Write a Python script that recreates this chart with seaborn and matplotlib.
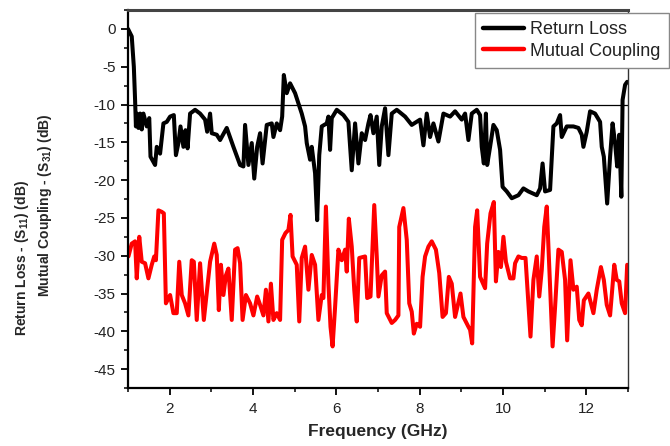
import numpy as np
import pandas as pd
import seaborn as sns
import matplotlib
matplotlib.use("Agg")
import matplotlib.pyplot as plt
from matplotlib.ticker import MultipleLocator

# Return loss (S11)
rl_freq = [1.00, 1.09, 1.14, 1.17, 1.19, 1.21, 1.25, 1.29, 1.33, 1.37, 1.45, 1.51, 1.54, 1.65, 1.69,
           1.77, 1.81, 1.85, 1.93, 2.01, 2.10, 2.15, 2.21, 2.26, 2.33, 2.38, 2.43, 2.49, 2.61, 2.73,
           2.85, 2.90, 2.97, 3.01, 3.13, 3.21, 3.37, 3.53, 3.69, 3.77, 3.81, 3.89, 3.97, 4.03, 4.10,
           4.17, 4.23, 4.33, 4.45, 4.49, 4.57, 4.65, 4.70, 4.74, 4.81, 4.89, 5.01, 5.17, 5.25, 5.29,
           5.37, 5.41, 5.49, 5.54, 5.59, 5.65, 5.77, 5.81, 5.85, 5.89, 6.01, 6.17, 6.29, 6.37, 6.45,
           6.53, 6.61, 6.69, 6.77, 6.82, 6.89, 6.97, 7.03, 7.09, 7.17, 7.25, 7.33, 7.45, 7.65, 7.81,
           8.01, 8.09, 8.17, 8.25, 8.33, 8.45, 8.57, 8.73, 8.85, 9.01, 9.09, 9.17, 9.25, 9.37, 9.45,
           9.49, 9.54, 9.59, 9.62, 9.69, 9.77, 9.85, 9.93, 9.99, 10.09, 10.21, 10.37, 10.49, 10.61, 10.81,
           10.89, 10.95, 11.01, 11.13, 11.21, 11.29, 11.37, 11.41, 11.53, 11.69, 11.81, 11.89, 11.93, 12.01, 12.09,
           12.21, 12.33, 12.37, 12.42, 12.50, 12.57, 12.63, 12.69, 12.74, 12.79, 12.84, 12.87, 12.93, 12.98]
rl_db = [0.0, -1.0, -5.0, -9.4, -12.9, -11.2, -13.1, -11.2, -13.3, -11.2, -12.9, -11.8, -16.9, -18.0, -15.6,
         -16.5, -14.5, -12.5, -12.3, -11.6, -11.4, -16.7, -15.1, -12.9, -15.6, -13.4, -15.8, -11.2, -10.7, -11.2,
         -12.0, -13.6, -11.2, -13.8, -14.0, -14.7, -13.1, -15.6, -18.0, -18.2, -12.7, -18.0, -15.1, -19.8, -15.6,
         -13.8, -17.8, -12.7, -12.5, -14.3, -12.5, -13.4, -11.6, -6.1, -8.5, -7.2, -8.5, -11.2, -12.9, -15.1,
         -17.3, -15.6, -19.1, -25.3, -16.7, -12.9, -12.5, -11.6, -16.0, -11.8, -10.7, -11.4, -12.3, -18.7, -12.5,
         -17.8, -13.8, -14.7, -12.5, -11.4, -13.8, -11.6, -18.0, -12.9, -10.5, -16.7, -11.2, -10.7, -11.6, -12.7,
         -12.0, -15.4, -11.2, -14.3, -12.5, -14.9, -11.2, -11.6, -10.9, -12.0, -11.2, -14.7, -11.2, -10.7, -11.4,
         -15.6, -17.8, -11.2, -18.0, -15.6, -12.7, -13.4, -16.0, -20.9, -21.5, -22.4, -22.0, -21.1, -21.5, -22.0,
         -21.1, -17.8, -21.5, -21.3, -12.9, -12.5, -11.4, -14.3, -12.9, -12.9, -13.1, -14.0, -15.6, -13.6, -10.9,
         -11.2, -12.3, -15.6, -16.9, -23.1, -16.9, -12.5, -15.1, -18.2, -14.0, -22.2, -9.4, -7.4, -7.0]

# Mutual coupling (S31)
mc_freq = [1.01, 1.09, 1.17, 1.21, 1.27, 1.33, 1.41, 1.49, 1.57, 1.63, 1.67, 1.73, 1.81, 1.86, 1.91,
           2.01, 2.09, 2.17, 2.23, 2.29, 2.37, 2.45, 2.53, 2.58, 2.65, 2.73, 2.82, 2.93, 2.97, 3.07,
           3.13, 3.18, 3.23, 3.29, 3.35, 3.41, 3.49, 3.57, 3.63, 3.69, 3.75, 3.83, 3.93, 4.01, 4.10,
           4.17, 4.25, 4.31, 4.37, 4.43, 4.49, 4.57, 4.65, 4.70, 4.78, 4.85, 4.90, 4.95, 5.05, 5.11,
           5.17, 5.25, 5.33, 5.41, 5.49, 5.57, 5.65, 5.69, 5.75, 5.81, 5.86, 5.91, 5.97, 6.05, 6.13,
           6.21, 6.25, 6.30, 6.37, 6.43, 6.49, 6.55, 6.69, 6.74, 6.82, 6.91, 6.97, 7.01, 7.09, 7.17,
           7.21, 7.33, 7.41, 7.49, 7.51, 7.61, 7.69, 7.75, 7.81, 7.86, 7.93, 8.01, 8.07, 8.13, 8.21,
           8.29, 8.39, 8.47, 8.55, 8.63, 8.70, 8.77, 8.85, 8.98, 9.05, 9.17, 9.21, 9.26, 9.33, 9.38,
           9.45, 9.57, 9.62, 9.70, 9.78, 9.83, 9.89, 9.95, 10.01, 10.07, 10.17, 10.25, 10.29, 10.37, 10.45,
           10.54, 10.61, 10.66, 10.73, 10.81, 10.87, 10.93, 10.99, 11.05, 11.13, 11.19, 11.25, 11.33, 11.41, 11.49,
           11.54, 11.62, 11.69, 11.77, 11.83, 11.89, 11.94, 12.05, 12.17, 12.25, 12.35, 12.42, 12.49, 12.57, 12.67,
           12.73, 12.79, 12.85, 12.93, 12.98]
mc_db = [-30.1, -28.4, -28.1, -33.0, -27.5, -30.8, -31.0, -33.0, -31.2, -30.1, -30.6, -24.0, -24.2, -24.4, -36.3,
         -35.2, -37.6, -37.6, -30.8, -35.2, -36.3, -37.9, -30.6, -30.8, -38.5, -31.0, -38.5, -32.8, -30.8, -28.4,
         -29.9, -37.2, -31.2, -35.2, -32.6, -31.7, -38.5, -29.2, -29.0, -31.0, -38.5, -35.2, -36.3, -37.9, -35.4,
         -36.5, -37.9, -34.5, -38.7, -33.7, -38.5, -37.6, -38.5, -27.9, -27.0, -26.6, -24.6, -30.1, -31.2, -38.7,
         -30.3, -28.8, -34.5, -29.9, -31.2, -38.5, -35.2, -35.6, -23.5, -33.7, -39.4, -42.0, -36.8, -29.2, -30.6,
         -29.2, -32.1, -25.1, -28.8, -34.5, -38.7, -30.3, -30.1, -35.6, -35.4, -23.3, -30.1, -35.4, -32.6, -32.1,
         -37.6, -38.9, -38.5, -37.9, -26.2, -23.7, -27.9, -36.3, -37.4, -40.3, -39.0, -39.4, -32.8, -30.1, -28.8,
         -28.1, -29.2, -32.3, -38.1, -37.6, -32.8, -33.7, -38.1, -35.0, -38.1, -39.4, -39.8, -41.6, -26.2, -24.0,
         -32.8, -34.3, -28.4, -24.4, -22.9, -33.4, -29.5, -31.5, -27.5, -30.8, -33.0, -33.0, -31.0, -30.1, -30.3,
         -30.3, -36.3, -40.7, -33.2, -30.1, -35.4, -31.9, -26.2, -23.5, -34.1, -42.0, -36.8, -29.2, -29.5, -33.2,
         -41.2, -30.6, -34.5, -34.1, -38.5, -39.2, -35.9, -35.0, -37.6, -34.5, -31.5, -33.2, -36.5, -37.9, -31.2,
         -33.2, -33.4, -36.3, -37.6, -31.2]

y_ticks = [0, -5, -10, -15, -20, -25, -30, -35, -40, -45]
x_ticks = [2, 4, 6, 8, 10, 12]

sns.set_style("ticks")
plt.rcParams['font.family'] = ['Liberation Sans', 'DejaVu Sans']
plt.rcParams['axes.unicode_minus'] = False
plt.rcParams['mathtext.fontset'] = 'custom'
plt.rcParams['mathtext.rm'] = 'Liberation Sans:bold'
plt.rcParams['mathtext.default'] = 'rm'

fig = plt.figure(figsize=(6.7, 4.46), dpi=100)
ax = fig.add_axes([128 / 670, 58 / 446, 500 / 670, 378 / 446])

sns.lineplot(x=rl_freq, y=rl_db, ax=ax, color='black', lw=2.9, label='Return Loss',
             estimator=None, sort=False)
sns.lineplot(x=mc_freq, y=mc_db, ax=ax, color='#ff0000', lw=2.9, label='Mutual Coupling',
             estimator=None, sort=False)
ax.axhline(-10, color='black', lw=0.9, zorder=1)

ax.set_xlim(1, 13)
ax.set_ylim(-47.5, 2.5)
ax.set_xticks(x_ticks)
ax.set_yticks(y_ticks)
ax.xaxis.set_minor_locator(MultipleLocator(2, offset=1))
ax.yaxis.set_minor_locator(MultipleLocator(2.5))
ax.tick_params(which='major', direction='out', length=5, width=1.3, labelsize=11, color='black',
               labelcolor='#222222')
ax.tick_params(which='minor', direction='out', length=3, width=1.1, color='black')
ax.tick_params(axis='x', pad=5)
ax.tick_params(axis='y', pad=4)

for side in ['left', 'bottom']:
    ax.spines[side].set_linewidth(1.6)
    ax.spines[side].set_color('black')
ax.spines['top'].set_linewidth(2.2)
ax.spines['top'].set_color('#444444')
ax.spines['right'].set_linewidth(1.0)
ax.spines['right'].set_color('#333333')

ax.set_xlabel('Frequency (GHz)', fontsize=12.5, fontweight='bold', labelpad=6)
ax.set_ylabel('')
fig.text(22 / 670, 1 - 258 / 446, r'Return Loss - (S$_{11}$) (dB)', rotation=90,
         ha='center', va='center', fontsize=10, fontweight='bold')
fig.text(45 / 670, 1 - 205 / 446, r'Mutual Coupling - (S$_{31}$) (dB)', rotation=90,
         ha='center', va='center', fontsize=10, fontweight='bold')

leg = ax.legend(loc='upper right', bbox_to_anchor=(1.082, 0.992), fontsize=13,
                frameon=True, fancybox=False, framealpha=1, edgecolor='#888888',
                handlelength=2.3, handletextpad=0.35, labelspacing=0.25,
                borderpad=0.45, borderaxespad=0)
leg.get_frame().set_linewidth(1.0)
for line in leg.get_lines():
    line.set_linewidth(3.2)
for t in leg.get_texts():
    t.set_color('#222222')

fig.savefig('out.png', dpi=100)
